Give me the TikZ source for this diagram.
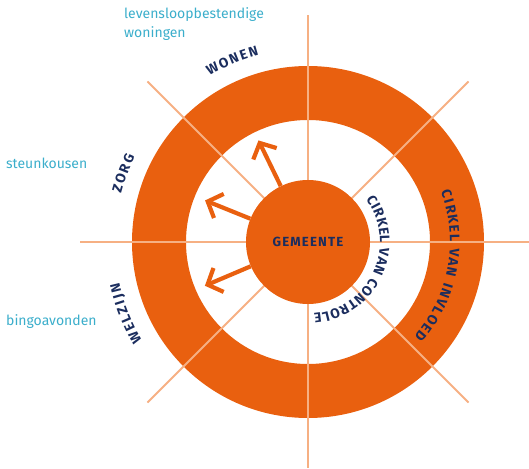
\documentclass[tikz,border=0pt]{standalone}
\usepackage{fontspec}
\setmainfont{Fira Sans}
\newfontfamily\labfontfam{Fira Sans}
\newfontfamily\gemfontfam{Fira Sans}[LetterSpace=9]
\usetikzlibrary{arrows.meta}
\definecolor{orng}{HTML}{E9600F}
\definecolor{spokec}{HTML}{F6B083}
\definecolor{navy}{HTML}{1B2D5E}
\definecolor{cyanlab}{HTML}{3BAECB}
\newcommand\labfont{\labfontfam\bfseries\fontsize{13.8}{14}\selectfont}
\newlength\chw
\AtBeginDocument{%
  \foreach \ch in {C,I,R,K,E,L,V,A,N,O,T,D,W,Z,G,J}{%
    \settowidth\chw{\labfont\ch}%
    \expandafter\xdef\csname lw\ch\endcsname{\the\chw}%
  }%
  \settowidth\chw{\labfont\ }%
  \expandafter\xdef\csname lw\endcsname{\the\chw}%
}
% #1 baseline radius (pt), #2 centre angle, #3 tracking (pt), #4 name prefix, #5 list of characters ({} = space)
\newcommand\arctext[5]{%
  \xdef\arcTot{0}%
  \foreach \ch in {#5}{%
    \pgfmathparse{\arcTot+\csname lw\ch\endcsname+#3}%
    \xdef\arcTot{\pgfmathresult}%
  }%
  \pgfmathparse{#2+(\arcTot-#3)/(#1+5)*180/pi/2}%
  \xdef\arcCur{\pgfmathresult}%
  \foreach \ch [count=\i] in {#5}{%
    \edef\chwd{\csname lw\ch\endcsname}%
    \pgfmathsetmacro\arcMid{\arcCur-(\chwd/2)/(#1+5)*180/pi}%
    \node[arclet, rotate=\arcMid-90] (#4\i) at (\arcMid:#1pt) {\labfont\ch};%
    \pgfmathparse{\arcCur-(\chwd+#3)/(#1+5)*180/pi}%
    \xdef\arcCur{\pgfmathresult}%
  }%
}
\tikzset{
  arclet/.style={anchor=base, inner sep=0pt, text=navy},
  spokeline/.style={draw=spokec, line width=2pt},
  outarrow/.style={draw=orng, line width=4.2pt, -{Straight Barb[length=12pt,width=26pt]}},
  cyantext/.style={text=cyanlab, font=\fontsize{14}{19}\selectfont, inner sep=0pt, align=left}
}
\begin{document}
\begin{tikzpicture}[x=1pt,y=1pt]
\useasboundingbox (-308,-226) rectangle (221,242);
% ring
\fill[orng, even odd rule] (0,0) circle (176pt) (0,0) circle (122pt);
% spokes
\foreach \a/\l in {0/221,45/227,90/227,135/227,180/228,225/227,270/226,315/227}
  \draw[spokeline] (0,0) -- (\a:\l pt);
% centre
\node[circle, fill=orng, minimum size=124pt, inner sep=0pt, text=navy] (gem) at (0,0)
  {\gemfontfam\bfseries\fontsize{13.2}{14}\selectfont GEMEENTE};
% arrows
\coordinate (tipA) at (116:113pt);
\coordinate (tipB) at (158:111pt);
\coordinate (tipC) at (203:112pt);
\draw[outarrow] (gem.116) -- (tipA);
\draw[outarrow] (gem.158) -- (tipB);
\draw[outarrow] (gem.203) -- (tipC);
% circle texts
\arctext{142}{-10.5}{1.8}{inv}{C,I,R,K,E,L,{},V,A,N,{},I,N,V,L,O,E,D}
\arctext{72}{-24.5}{1.2}{con}{C,I,R,K,E,L,{},V,A,N,{},C,O,N,T,R,O,L,E}
\arctext{193}{112.7}{2}{won}{W,O,N,E,N}
\arctext{193}{159.6}{2}{zor}{Z,O,R,G}
\arctext{193}{201.4}{2}{wel}{W,E,L,Z,I,J,N}
% cyan labels
\node[cyantext, anchor=north west] (lev) at (-184,235) {levensloopbestendige\\woningen};
\node[cyantext, anchor=west] (steun) at (-302,79) {steunkousen};
\node[cyantext, anchor=west] (bingo) at (-302,-80) {bingoavonden};
\end{tikzpicture}
\end{document}
